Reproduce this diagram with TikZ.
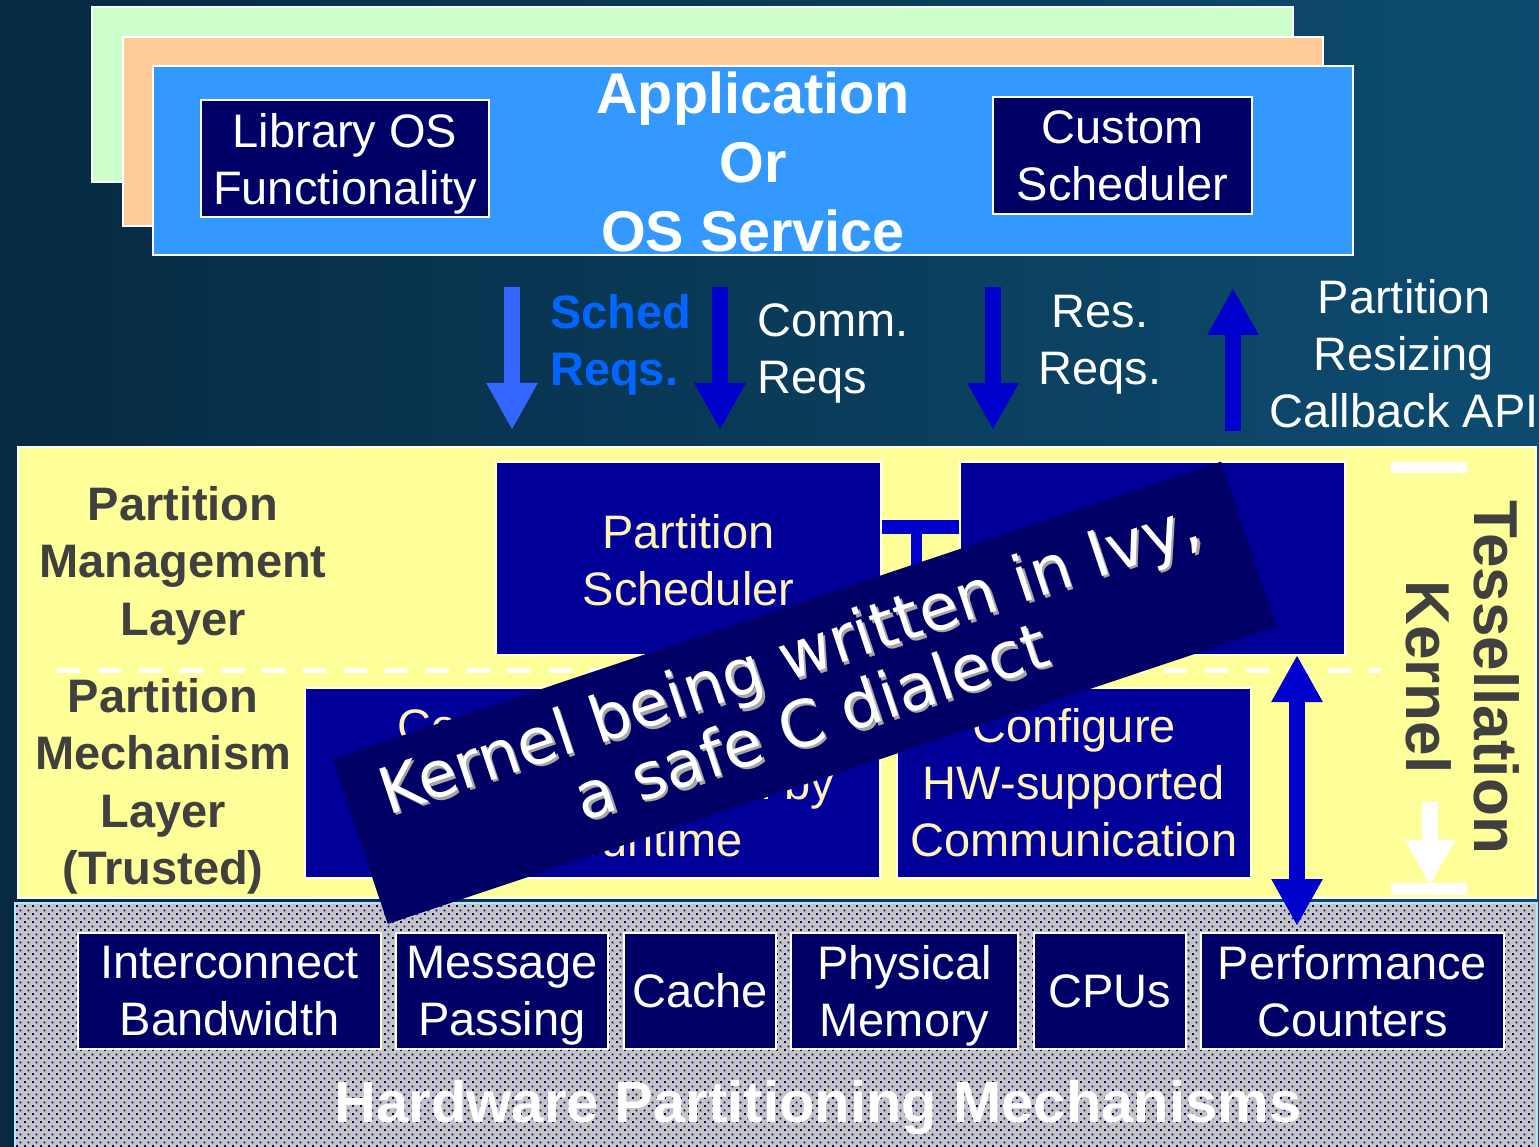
\documentclass[tikz,border=0pt]{standalone}
\usepackage{fontspec}
\setmainfont{Liberation Sans}
\newfontfamily\bannerfont{DejaVu Sans}
\usetikzlibrary{arrows.meta,patterns.meta,calc}

\definecolor{bgA}{HTML}{062A42}
\definecolor{bgB}{HTML}{0D4C70}
\definecolor{mint}{HTML}{CCFFCC}
\definecolor{peach}{HTML}{FFCC99}
\definecolor{appblue}{HTML}{3399FF}
\definecolor{navy}{HTML}{000066}
\definecolor{royal}{HTML}{000099}
\definecolor{arrowblue}{HTML}{0000CC}
\definecolor{skyarrow}{HTML}{3366FF}
\definecolor{schedtxt}{HTML}{0066FF}
\definecolor{paleyellow}{HTML}{FFFF99}
\definecolor{cream}{HTML}{FFF3B8}
\definecolor{slate}{HTML}{404040}
\definecolor{hwgray}{HTML}{C4C4C4}
\definecolor{hwdot}{HTML}{00006E}

% a line whose descenders do not count when the text is centred
\newcommand\nodepth[1]{\raisebox{0pt}[\height][0pt]{#1}}

% staggered dot screen for the hardware layer
\tikzdeclarepattern{
  name=hwdots,
  type=uncolored,
  bounding box={(0pt,0pt) and (8pt,8pt)},
  tile size={(8pt,8pt)},
  code={
    \pgfpathrectangle{\pgfpoint{0pt}{0pt}}{\pgfpoint{2pt}{2pt}}
    \pgfpathrectangle{\pgfpoint{4pt}{4pt}}{\pgfpoint{2pt}{2pt}}
    \pgfusepath{fill}
  }
}

\begin{document}
\begin{tikzpicture}[x=1pt,y=-1pt,
  panel/.style={draw=white, line width=2pt},
  darkbox/.style={draw=white, line width=2pt, fill=navy, text=white, inner sep=0pt,
    align=center, font=\fontsize{47}{57}\selectfont},
  layerbox/.style={draw=white, line width=2pt, fill=royal, text=cream, inner sep=0pt,
    align=center, font=\fontsize{47}{57}\selectfont},
  lbl/.style={inner sep=0pt, font=\fontsize{47}{57}\selectfont},
  lblbold/.style={inner sep=0pt, font=\fontsize{47}{57.5}\selectfont\bfseries},
  fat/.style={line width=16pt, -{Triangle[width=48pt,length=47pt]}},
  fatboth/.style={line width=16pt,
    {Triangle[width=48pt,length=47pt]}-{Triangle[width=48pt,length=47pt]}},
  bannertxt/.style={rotate=18.5, inner sep=0pt, align=center,
    font=\bannerfont\fontsize{64}{68}\selectfont},
]
\useasboundingbox (0,0) rectangle (1539,1147);

% backdrop
\shade[left color=bgA, right color=bgB] (0,0) rectangle (1539,1147);

% stacked application panels
\filldraw[panel, fill=mint]    (92,7)   rectangle (1293,182);
\filldraw[panel, fill=peach]   (123,37) rectangle (1323,226);
\filldraw[panel, fill=appblue] (153,66) rectangle (1353,255);

\node[darkbox, minimum width=288pt, minimum height=117pt] (libos) at (345,158.5)
  {Library OS\\\nodepth{Functionality}};
\node[darkbox, minimum width=259pt, minimum height=117pt] (custsched) at (1122.5,156)
  {Custom\\Scheduler};
\node[inner sep=0pt, align=center, text=white,
  font=\fontsize{57.5}{69}\selectfont\bfseries] (app) at (753,162)
  {Application\\Or\\OS Service};

% request / callback arrows
\coordinate (schedA) at (512,287);  \coordinate (schedB) at (512,430);
\coordinate (commA)  at (720,287);  \coordinate (commB)  at (720,430);
\coordinate (resA)   at (993,287);  \coordinate (resB)   at (993,430);
\coordinate (cbA)    at (1233,431); \coordinate (cbB)    at (1233,288);
\draw[fat, skyarrow]   (schedA) -- (schedB);
\draw[fat, arrowblue]  (commA) -- (commB);
\draw[fat, arrowblue]  (resA) -- (resB);
\draw[fat, arrowblue]  (cbA) -- (cbB);

\node[lblbold, text=schedtxt, anchor=north west, align=left] (schedlbl) at (550,294)
  {Sched\\Reqs.};
\node[lbl, text=white, anchor=north west, align=left] (commlbl) at (757,303)
  {Comm.\\Reqs};
\node[lbl, text=white, anchor=north, align=center] (reslbl) at (1100,295)
  {Res.\\Reqs.};
\node[lbl, text=white, anchor=north, align=center] (cblbl) at (1404,279)
  {Partition\\Resizing\\Callback API};

% kernel layers
\filldraw[draw=white, line width=1.5pt, fill=paleyellow] (18,447) rectangle (1536,898);
\draw[white, line width=5pt, dash pattern=on 23pt off 18pt] (57,670) -- (1380,670);

\node[layerbox, minimum width=383pt, minimum height=191pt] (psched) at (688.5,558.5) {};
\node[layerbox, minimum width=383pt, minimum height=191pt] (palloc) at (1152.5,558.5) {};
\coordinate (tjoin) at (916.5,527);
\coordinate (tfoot) at (916.5,615);
\draw[arrowblue, line width=14pt] (psched.east |- tjoin) -- (palloc.west |- tjoin);
\draw[arrowblue, line width=11pt] (tjoin) -- (tfoot);
\filldraw[draw=white, line width=2pt, fill=royal] (psched.south west) rectangle (psched.north east);
\filldraw[draw=white, line width=2pt, fill=royal] (palloc.south west) rectangle (palloc.north east);
\node[lbl, text=cream, align=center] (pschedtxt) at ($(psched.center)+(0,2)$) {Partition\\Scheduler};

\node[layerbox, minimum width=575pt, minimum height=190pt] (pconf) at (592.5,783)
  {Configure Partition\\Resources enforced by\\HW at runtime};
\node[layerbox, minimum width=354pt, minimum height=190pt] (pcomm) at (1074,783)
  {Configure\\HW-supported\\Communication};

\node[lblbold, text=slate, anchor=north, align=center] (mgmt) at (183,486)
  {Partition\\Management\\Layer};
\node[lblbold, text=slate, anchor=north, align=center] (mech) at (163,678)
  {Partition\\Mechanism\\Layer\\(Trusted)};

% kernel extent marker
\fill[white] (1391,462) rectangle (1467,473);
\fill[white] (1391,883) rectangle (1467,895);
\coordinate (kmarkA) at (1430,802);
\coordinate (kmarkB) at (1430,885);
\draw[white, line width=16pt, -{Triangle[width=47pt,length=45pt]}] (kmarkA) -- (kmarkB);
\node[rotate=-90, inner sep=0pt, align=center, text=slate,
  font=\fontsize{62}{68}\selectfont\bfseries] (tkernel) at (1463,677)
  {Tessellation\\Kernel};

% hardware layer
\fill[hwgray] (15,903) rectangle (1537,1147);
\fill[pattern=hwdots, pattern color=hwdot] (15,903) rectangle (1537,1147);
\draw[white!70!cyan, line width=1.5pt] (15,1150) -- (15,903) -- (1537,903) -- (1537,1150);

\node[darkbox, minimum width=303pt, minimum height=116pt] (icb)   at (229.5,991) {Interconnect\\Bandwidth};
\node[darkbox, minimum width=212pt, minimum height=116pt] (msg)   at (502,991)   {Message\\\nodepth{Passing}};
\node[darkbox, minimum width=152pt, minimum height=116pt] (cache) at (700,991)   {Cache};
\node[darkbox, minimum width=227pt, minimum height=116pt] (pmem)  at (904.5,991) {Physical\\\nodepth{Memory}};
\node[darkbox, minimum width=152pt, minimum height=116pt] (cpus)  at (1110,991)  {\nodepth{CPUs}};
\node[darkbox, minimum width=303pt, minimum height=116pt] (perf)  at (1352.5,991) {Performance\\Counters};

\node[inner sep=0pt, anchor=base, text=white, font=\fontsize{58}{60}\selectfont\bfseries]
  (hwlbl) at (818,1122) {Hardware Partitioning Mechanisms};

% allocation link between the layers
\coordinate (linkA) at (1297,655);
\coordinate (linkB) at (1297,926);
\draw[fatboth, arrowblue] (linkA) -- (linkB);

% annotation banner
\node[rotate=18.5, fill=navy, inner sep=0pt, minimum width=937pt, minimum height=174pt]
  (banner) at (804.5,692.75) {};
\node[bannertxt, text=black!35] at (802.5,690.5) {Kernel being written in Ivy,\\a safe C dialect};
\node[bannertxt, text=white] (bannertext) at (800,688) {Kernel being written in Ivy,\\a safe C dialect};
\end{tikzpicture}
\end{document}
